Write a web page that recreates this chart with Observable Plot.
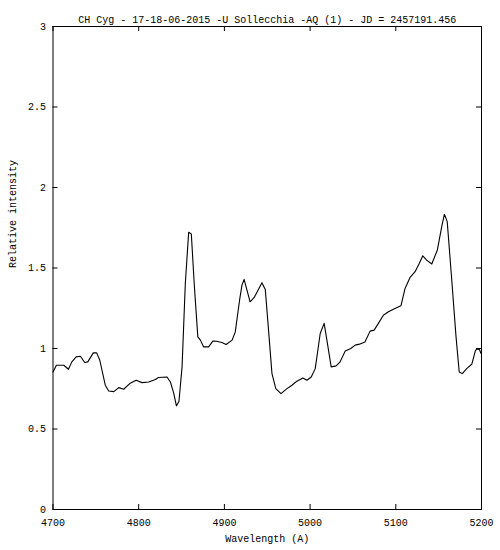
<!DOCTYPE html>
<html>
<head>
<meta charset="utf-8">
<script src="https://cdn.jsdelivr.net/npm/d3@7"></script>
<script src="https://cdn.jsdelivr.net/npm/@observablehq/plot@0.6"></script>
<style>
  html, body { margin: 0; padding: 0; background: #fff; }
  svg { display: block; }
</style>
</head>
<body>
<div id="chart"></div>
<script>
const titleText = "CH Cyg - 17-18-06-2015 -U Sollecchia -AQ (1) - JD = 2457191.456";
const xLabel = "Wavelength (A)";
const yLabel = "Relative intensity";
const xTicks = [4700, 4800, 4900, 5000, 5100, 5200];
const yTicks = [0, 0.5, 1, 1.5, 2, 2.5, 3];

const wavelength = [
  4700, 4704, 4712.6, 4718, 4722, 4727, 4732, 4737, 4740.6, 4747, 4751, 4754.6,
  4761, 4765, 4771, 4776.7, 4782.5, 4789.5, 4797, 4804, 4811.7, 4819.5, 4823,
  4833, 4837, 4841, 4844, 4847, 4850.6, 4854.4, 4858.3, 4861.4, 4865, 4869,
  4872, 4875.8, 4881.6, 4886.7, 4891, 4897, 4902, 4909, 4912.7, 4917.7, 4920.5,
  4923, 4930, 4934.8, 4943.8, 4947.7, 4951.5, 4955.5, 4960, 4966, 4973, 4978.8,
  4984.6, 4991.6, 4996.3, 5001.3, 5006, 5011.8, 5016.4, 5019.6, 5024.6, 5030.4,
  5035, 5041, 5047.5, 5052.6, 5057.6, 5064, 5070, 5074.7, 5079.7, 5085.5,
  5091.4, 5099, 5106, 5110.8, 5116.7, 5122.5, 5127.5, 5131.5, 5136, 5142,
  5148.5, 5153.6, 5156.7, 5160, 5165, 5170.3, 5174, 5177.6, 5182.7, 5188.6,
  5193, 5197, 5199.5
];
const intensity = [
  0.854, 0.896, 0.896, 0.871, 0.917, 0.948, 0.952, 0.913, 0.917, 0.973, 0.973, 0.927,
  0.772, 0.736, 0.732, 0.757, 0.747, 0.782, 0.803, 0.788, 0.792, 0.807, 0.820,
  0.823, 0.792, 0.720, 0.643, 0.672, 0.886, 1.404, 1.722, 1.711, 1.383, 1.072,
  1.052, 1.010, 1.010, 1.047, 1.045, 1.037, 1.025, 1.052, 1.103, 1.300, 1.394,
  1.429, 1.290, 1.317, 1.408, 1.367, 1.114, 0.844, 0.751, 0.720, 0.751, 0.772,
  0.797, 0.817, 0.803, 0.823, 0.875, 1.093, 1.156, 1.052, 0.886, 0.892,
  0.917, 0.985, 1.000, 1.021, 1.027, 1.041, 1.108, 1.114, 1.156, 1.207,
  1.228, 1.249, 1.265, 1.373, 1.442, 1.477, 1.529, 1.576, 1.549, 1.525,
  1.612, 1.757, 1.834, 1.788, 1.446, 1.072, 0.854, 0.844, 0.875, 0.902,
  0.989, 1.000, 0.969
];

const data = wavelength.map((w, i) => ({w, v: intensity[i]}));
const font = "'Liberation Mono', 'DejaVu Sans Mono', monospace";
const W = 500, H = 550;
const mL = 52.5, mR = 19, mT = 26, mB = 41;
const fw = W - mL - mR, fh = H - mT - mB;
const tick = 5;

const chart = Plot.plot({
  width: W,
  height: H,
  marginLeft: mL,
  marginRight: mR,
  marginTop: mT,
  marginBottom: mB,
  style: {fontFamily: font, fontSize: "10px", color: "#000", background: "#fff"},
  x: {domain: [4700, 5200]},
  y: {domain: [0, 3]},
  marks: [
    Plot.frame({stroke: "#000", strokeWidth: 1}),
    // inward ticks, bottom and top
    Plot.ruleX(xTicks, {x: d => d, insetTop: fh - tick, stroke: "#000"}),
    Plot.ruleX(xTicks, {x: d => d, insetBottom: fh - tick, stroke: "#000"}),
    // inward ticks, left and right
    Plot.ruleY(yTicks, {y: d => d, insetRight: fw - tick, stroke: "#000"}),
    Plot.ruleY(yTicks, {y: d => d, insetLeft: fw - tick, stroke: "#000"}),
    Plot.axisX(xTicks, {tickSize: 0, tickPadding: 9, label: null, tickFormat: d => String(d), fontSize: 10}),
    Plot.axisY(yTicks, {tickSize: 0, tickPadding: 7, label: null, tickFormat: d => String(d), fontSize: 10}),
    Plot.line(data, {x: "w", y: "v", stroke: "#000", strokeWidth: 1.1, curve: "linear"}),
    Plot.text([titleText], {text: d => d, frameAnchor: "top", dy: -11, fontSize: 10}),
    Plot.text([xLabel], {text: d => d, frameAnchor: "bottom", dy: 32, fontSize: 10}),
    Plot.text([yLabel], {text: d => d, frameAnchor: "left", dx: -40, rotate: -90, fontSize: 10})
  ]
});
document.getElementById("chart").appendChild(chart);
</script>
</body>
</html>
